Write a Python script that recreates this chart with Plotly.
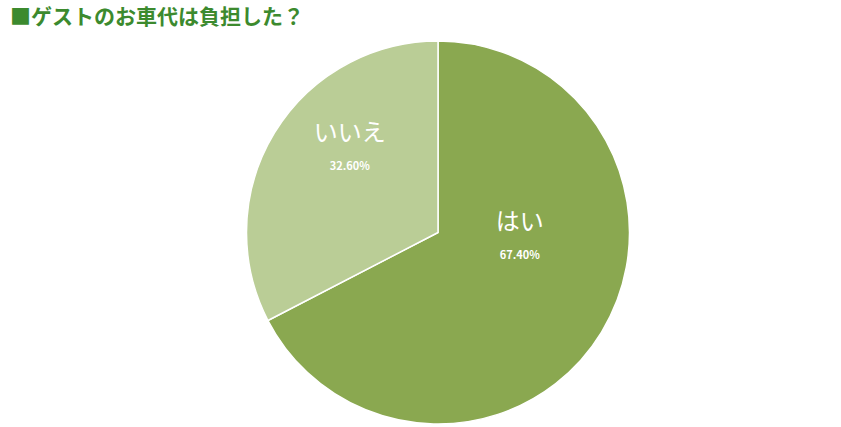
import plotly.graph_objects as go

labels = ["はい", "いいえ"]
values = [67.40, 32.60]
colors = ["#8aa850", "#bacd96"]
title_text = "■ゲストのお車代は負担した？"

base = "<span style='font-size:24px'>%{label}</span><br><br><b>%{value:.2f}%</b>"
pad_lines = [7, 5]
templates = [base + "<br>&nbsp;" * n for n in pad_lines]

fig = go.Figure(go.Pie(
    labels=labels,
    values=values,
    sort=False,
    direction="clockwise",
    rotation=0,
    marker=dict(colors=colors, line=dict(color="white", width=1.5)),
    texttemplate=templates,
    textposition="inside",
    insidetextorientation="horizontal",
    textfont=dict(color="white", size=11, family="Noto Sans CJK JP, Roboto, sans-serif"),
    hoverinfo="skip",
    showlegend=False,
))

fig.update_layout(
    width=841, height=427,
    margin=dict(l=35, r=0, t=41, b=3),
    paper_bgcolor="white",
    plot_bgcolor="white",
    title=dict(
        text=title_text,
        x=0.0119, xanchor="left",
        y=0.962, yanchor="middle",
        font=dict(size=21, color="#3c8a2e", family="Noto Sans CJK JP, sans-serif", weight="bold"),
    ),
)

fig.write_html("out.html", config={"displayModeBar": False},
               post_script="document.body.style.margin='0';")
